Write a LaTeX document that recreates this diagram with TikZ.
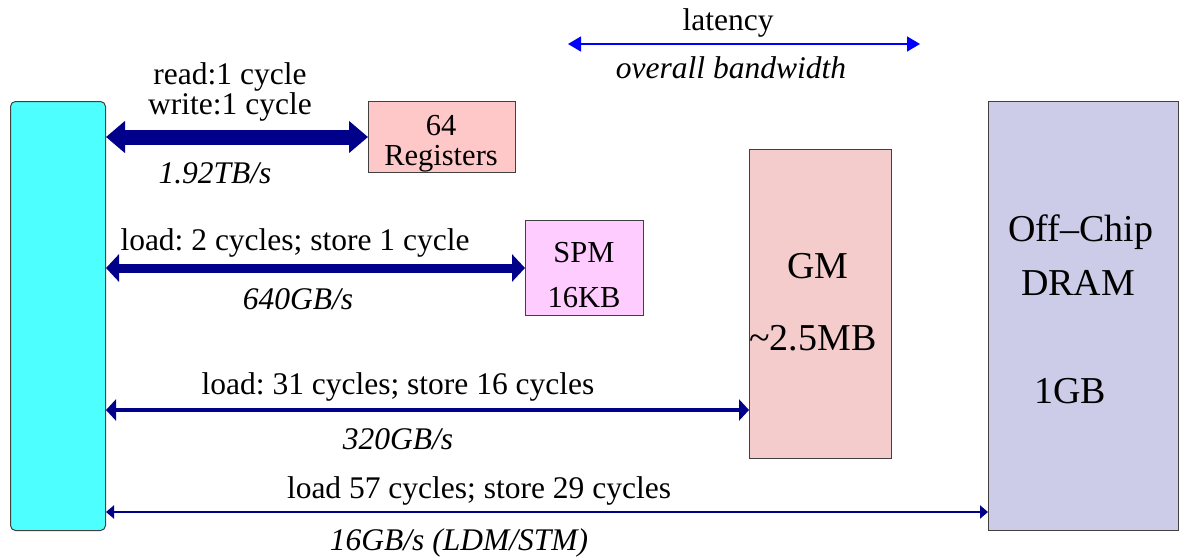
\documentclass[tikz,border=0pt]{standalone}
\usepackage{fontspec}
\setmainfont{Liberation Serif}
\usetikzlibrary{arrows.meta}
\frenchspacing

\definecolor{cpucyan}{RGB}{77,255,255}
\definecolor{regpink}{RGB}{255,200,200}
\definecolor{spmpink}{RGB}{255,204,255}
\definecolor{gmpink}{RGB}{244,204,204}
\definecolor{drampurple}{RGB}{204,204,232}
\definecolor{busnavy}{RGB}{0,0,139}
\definecolor{legblue}{RGB}{0,0,255}

\tikzset{
  membox/.style={draw=black!75, line width=1pt, inner sep=0pt, anchor=north west},
  lbl/.style={font=\fontsize{31.5}{34}\selectfont, inner sep=0pt},
  ilbl/.style={font=\fontsize{31.5}{34}\selectfont\itshape, inner sep=0pt},
  boxlbl/.style={font=\fontsize{30.5}{34}\selectfont, inner sep=0pt,
    text height=18pt, text depth=2pt, anchor=base},
  biglbl/.style={font=\fontsize{38}{40}\selectfont, inner sep=0pt},
  busA/.style={draw=busnavy, line width=15pt,
    {Triangle[length=19pt,width=31pt]}-{Triangle[length=19pt,width=31pt]}},
  busB/.style={draw=busnavy, line width=9pt,
    {Triangle[length=13pt,width=27pt]}-{Triangle[length=13pt,width=27pt]}},
  busC/.style={draw=busnavy, line width=4.5pt,
    {Triangle[length=10pt,width=21pt]}-{Triangle[length=10pt,width=21pt]}},
  busD/.style={draw=busnavy, line width=2pt,
    {Triangle[length=8pt,width=13pt]}-{Triangle[length=8pt,width=13pt]}},
  legarrow/.style={draw=legblue, line width=1.5pt,
    {Triangle[length=13pt,width=15pt]}-{Triangle[length=13pt,width=15pt]}}
}

\begin{document}
\begin{tikzpicture}[x=1pt,y=-1pt]
\useasboundingbox (0,0) rectangle (1182,557);

% processor and memory levels
\node[membox, fill=cpucyan, rounded corners=5pt, minimum width=95pt, minimum height=429pt] (cpu) at (10,101) {};
\node[membox, fill=regpink, minimum width=147pt, minimum height=71pt] (reg) at (368,101) {};
\node[membox, fill=spmpink, minimum width=118pt, minimum height=95pt] (spm) at (525,220) {};
\node[membox, fill=gmpink, minimum width=142pt, minimum height=309pt] (gm) at (749,149) {};
\node[membox, fill=drampurple, minimum width=190pt, minimum height=429pt] (dram) at (988,101) {};

% memory labels (placed on their baselines)
\node[boxlbl] (regnum) at (441,135) {64};
\node[boxlbl] (regname) at (441,165.5) {Registers};
\node[boxlbl] (spmname) at (584,262) {SPM};
\node[boxlbl] (spmsize) at (584,307) {16KB};
\node[biglbl] (gmname) at (818,266) {GM};
\node[biglbl] (gmsize) at (813,338) {\textasciitilde 2.5MB};
\node[biglbl] (dramA) at (1081,232) {Off\textendash Chip};
\node[biglbl] (dramB) at (1078,283) {DRAM};
\node[biglbl] (dramC) at (1070,391) {1GB};

% legend
\coordinate (legL) at (568,44);
\coordinate (legR) at (920,44);
\draw[legarrow] (legL) -- (legR);
\node[lbl] (lat) at (728,23) {latency};
\node[ilbl] (bw) at (731,68) {overall bandwidth};

% register bus
\draw[busA] (cpu.east |- reg.west) -- (reg.west);
\node[lbl] (regA) at (230,77) {read:1 cycle};
\node[lbl] (regB) at (230,107) {write:1 cycle};
\node[ilbl] (regC) at (215,173) {1.92TB/s};

% scratchpad bus
\draw[busB] (cpu.east |- spm.west) -- (spm.west);
\node[lbl] (spmA) at (295,243) {load: 2 cycles; store 1 cycle};
\node[ilbl] (spmB) at (298,299) {640GB/s};

% global memory bus
\coordinate (gmy) at (0,410);
\draw[busC] (cpu.east |- gmy) -- (gm.west |- gmy);
\node[lbl] (gmA) at (398,387) {load: 31 cycles; store 16 cycles};
\node[ilbl] (gmB) at (398,439) {320GB/s};

% off-chip bus
\coordinate (dry) at (0,512);
\draw[busD] (cpu.east |- dry) -- (dram.west |- dry);
\node[lbl] (drA) at (479,491) {load 57 cycles; store 29 cycles};
\node[ilbl] (drB) at (459,543) {16GB/s (LDM/STM)};
\end{tikzpicture}
\end{document}
